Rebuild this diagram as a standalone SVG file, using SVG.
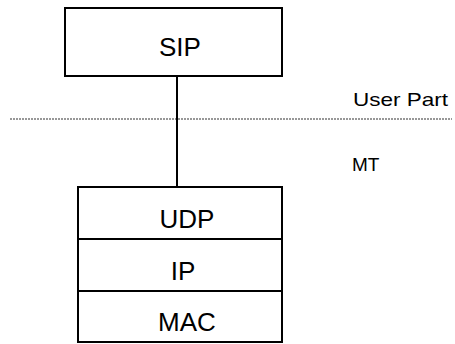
<svg xmlns="http://www.w3.org/2000/svg" width="455" height="344" viewBox="0 0 455 344">
  <style>
    .box { fill: #ffffff; stroke: #000000; stroke-width: 2; }
    .lbl { font-family: "Liberation Sans", Arial, sans-serif; font-size: 26px; fill: #000000; text-anchor: middle; }
    .side { font-family: "Liberation Sans", Arial, sans-serif; font-size: 19px; fill: #000000; }
    .link { stroke: #000000; stroke-width: 2; fill: none; }
    .divider { stroke: #333333; stroke-width: 1.2; stroke-dasharray: 2 1; fill: none; }
  </style>
  <rect width="455" height="344" fill="#ffffff"/>

  <!-- boundary between user part and mobile terminal -->
  <line class="divider" x1="10" y1="119" x2="452" y2="119"/>
  <text class="side" x="353" y="106" textLength="95" lengthAdjust="spacingAndGlyphs">User Part</text>
  <text class="side" x="352" y="171">MT</text>

  <g id="connectors">
    <line class="link" x1="177" y1="76" x2="177" y2="187"/>
  </g>

  <g id="sip">
    <rect class="box" x="65" y="8" width="217" height="68"/>
    <text class="lbl" x="180" y="56">SIP</text>
  </g>

  <g id="udp">
    <rect class="box" x="78" y="187" width="204" height="52"/>
    <text class="lbl" x="187" y="228">UDP</text>
  </g>

  <g id="ip">
    <rect class="box" x="78" y="239" width="204" height="52"/>
    <text class="lbl" x="183" y="280">IP</text>
  </g>

  <g id="mac">
    <rect class="box" x="78" y="291" width="204" height="51"/>
    <text class="lbl" x="187" y="331">MAC</text>
  </g>
</svg>
